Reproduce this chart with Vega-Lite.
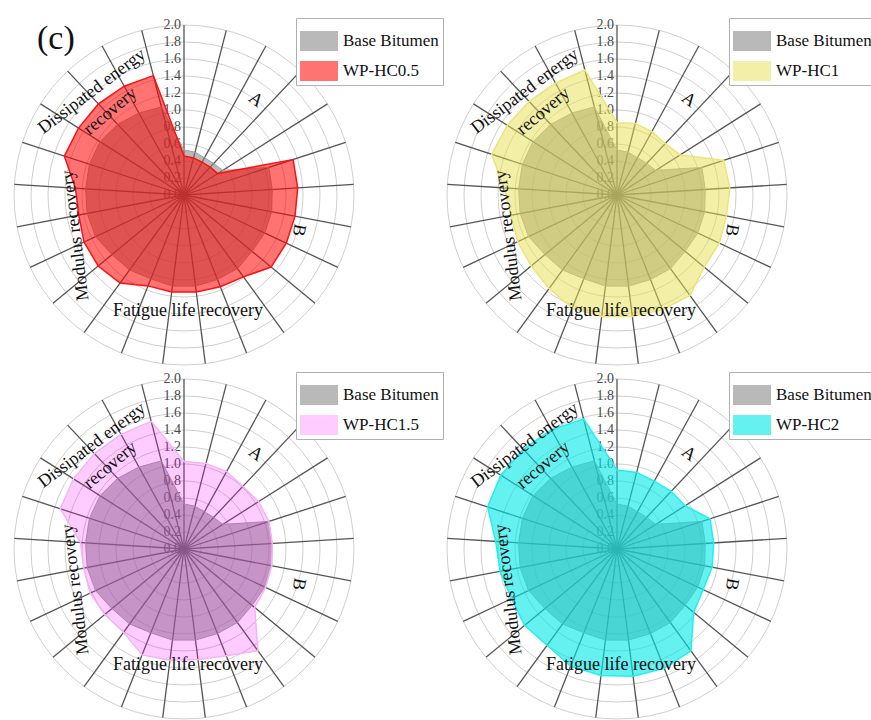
{
"$schema": "https://vega.github.io/schema/vega-lite/v6.json",
"padding": {"left": 0, "top": 17, "right": 0, "bottom": 0},
"bounds": "flush",
"columns": 2,
"spacing": {"row": 0, "column": 65},
"background": "white",
"config": {
  "view": {"stroke": null},
  "font": "Liberation Serif",
  "legend": {"orient": "none", "legendX": 296, "legendY": 0, "padding": 4, "strokeColor": "#b0b0b0", "fillColor": "white", "labelFont": "Liberation Serif", "labelFontSize": 17, "labelColor": "#111111", "labelOffset": 5, "symbolType": "M-1,-0.52H1V0.52H-1Z", "symbolSize": 1444, "symbolStrokeWidth": 0, "rowPadding": 1, "labelLimit": 300}
},
"resolve": {"scale": {"fill": "independent"}, "legend": {"fill": "independent"}},
"datasets": {
  "ticks": [{"r": 0}, {"r": 0.2}, {"r": 0.4}, {"r": 0.6}, {"r": 0.8}, {"r": 1.0}, {"r": 1.2}, {"r": 1.4}, {"r": 1.6}, {"r": 1.8}, {"r": 2.0}],
  "spokes": [{"k": 0}, {"k": 1}, {"k": 2}, {"k": 3}, {"k": 4}, {"k": 5}, {"k": 6}, {"k": 7}, {"k": 8}, {"k": 9}, {"k": 10}, {"k": 11}, {"k": 12}, {"k": 13}, {"k": 14}, {"k": 15}, {"k": 16}, {"k": 17}, {"k": 18}, {"k": 19}, {"k": 20}, {"k": 21}, {"k": 22}, {"k": 23}, {"k": 24}],
  "labels": [
    {"label": "Dissipated energy", "theta": 318.4, "r": 1.63},
    {"label": "recovery", "theta": 318.7, "r": 1.31},
    {"label": "A", "theta": 37, "r": 1.40},
    {"label": "B", "theta": 107, "r": 1.41},
    {"label": "Fatigue life recovery", "theta": 178, "r": 1.36},
    {"label": "Modulus recovery", "theta": 249.6, "r": 1.36}
  ],
  "panelmark": [{"tag": "(c)", "theta": 320.6, "r": 2.374}],
  "base": [
    {"series": "Base Bitumen", "k": 0, "v": 0.53}, {"series": "Base Bitumen", "k": 1, "v": 0.52}, {"series": "Base Bitumen", "k": 2, "v": 0.50}, {"series": "Base Bitumen", "k": 3, "v": 0.51}, {"series": "Base Bitumen", "k": 4, "v": 0.54},
    {"series": "Base Bitumen", "k": 5, "v": 1.05}, {"series": "Base Bitumen", "k": 6, "v": 1.04}, {"series": "Base Bitumen", "k": 7, "v": 1.05}, {"series": "Base Bitumen", "k": 8, "v": 1.05}, {"series": "Base Bitumen", "k": 9, "v": 1.04},
    {"series": "Base Bitumen", "k": 10, "v": 1.07}, {"series": "Base Bitumen", "k": 11, "v": 1.07}, {"series": "Base Bitumen", "k": 12, "v": 1.08}, {"series": "Base Bitumen", "k": 13, "v": 1.08}, {"series": "Base Bitumen", "k": 14, "v": 1.06},
    {"series": "Base Bitumen", "k": 15, "v": 1.09}, {"series": "Base Bitumen", "k": 16, "v": 1.10}, {"series": "Base Bitumen", "k": 17, "v": 1.15}, {"series": "Base Bitumen", "k": 18, "v": 1.16}, {"series": "Base Bitumen", "k": 19, "v": 1.16},
    {"series": "Base Bitumen", "k": 20, "v": 1.17}, {"series": "Base Bitumen", "k": 21, "v": 1.17}, {"series": "Base Bitumen", "k": 22, "v": 1.14}, {"series": "Base Bitumen", "k": 23, "v": 1.10}, {"series": "Base Bitumen", "k": 24, "v": 1.07}
  ],
  "hc05": [
    {"series": "WP-HC0.5", "k": 0, "v": 0.46}, {"series": "WP-HC0.5", "k": 1, "v": 0.45}, {"series": "WP-HC0.5", "k": 2, "v": 0.44}, {"series": "WP-HC0.5", "k": 3, "v": 0.45}, {"series": "WP-HC0.5", "k": 4, "v": 0.47},
    {"series": "WP-HC0.5", "k": 5, "v": 1.35}, {"series": "WP-HC0.5", "k": 6, "v": 1.34}, {"series": "WP-HC0.5", "k": 7, "v": 1.33}, {"series": "WP-HC0.5", "k": 8, "v": 1.33}, {"series": "WP-HC0.5", "k": 9, "v": 1.33},
    {"series": "WP-HC0.5", "k": 10, "v": 1.19}, {"series": "WP-HC0.5", "k": 11, "v": 1.16}, {"series": "WP-HC0.5", "k": 12, "v": 1.15}, {"series": "WP-HC0.5", "k": 13, "v": 1.15}, {"series": "WP-HC0.5", "k": 14, "v": 1.15},
    {"series": "WP-HC0.5", "k": 15, "v": 1.28}, {"series": "WP-HC0.5", "k": 16, "v": 1.31}, {"series": "WP-HC0.5", "k": 17, "v": 1.30}, {"series": "WP-HC0.5", "k": 18, "v": 1.26}, {"series": "WP-HC0.5", "k": 19, "v": 1.28},
    {"series": "WP-HC0.5", "k": 20, "v": 1.48}, {"series": "WP-HC0.5", "k": 21, "v": 1.47}, {"series": "WP-HC0.5", "k": 22, "v": 1.47}, {"series": "WP-HC0.5", "k": 23, "v": 1.46}, {"series": "WP-HC0.5", "k": 24, "v": 1.45}
  ],
  "hc1": [
    {"series": "WP-HC1", "k": 0, "v": 0.85}, {"series": "WP-HC1", "k": 1, "v": 0.87}, {"series": "WP-HC1", "k": 2, "v": 0.85}, {"series": "WP-HC1", "k": 3, "v": 0.83}, {"series": "WP-HC1", "k": 4, "v": 0.88},
    {"series": "WP-HC1", "k": 5, "v": 1.32}, {"series": "WP-HC1", "k": 6, "v": 1.33}, {"series": "WP-HC1", "k": 7, "v": 1.31}, {"series": "WP-HC1", "k": 8, "v": 1.33}, {"series": "WP-HC1", "k": 9, "v": 1.33},
    {"series": "WP-HC1", "k": 10, "v": 1.46}, {"series": "WP-HC1", "k": 11, "v": 1.45}, {"series": "WP-HC1", "k": 12, "v": 1.44}, {"series": "WP-HC1", "k": 13, "v": 1.44}, {"series": "WP-HC1", "k": 14, "v": 1.43},
    {"series": "WP-HC1", "k": 15, "v": 1.36}, {"series": "WP-HC1", "k": 16, "v": 1.31}, {"series": "WP-HC1", "k": 17, "v": 1.29}, {"series": "WP-HC1", "k": 18, "v": 1.27}, {"series": "WP-HC1", "k": 19, "v": 1.33},
    {"series": "WP-HC1", "k": 20, "v": 1.55}, {"series": "WP-HC1", "k": 21, "v": 1.53}, {"series": "WP-HC1", "k": 22, "v": 1.51}, {"series": "WP-HC1", "k": 23, "v": 1.50}, {"series": "WP-HC1", "k": 24, "v": 1.52}
  ],
  "hc15": [
    {"series": "WP-HC1.5", "k": 0, "v": 1.03}, {"series": "WP-HC1.5", "k": 1, "v": 1.04}, {"series": "WP-HC1.5", "k": 2, "v": 1.04}, {"series": "WP-HC1.5", "k": 3, "v": 1.01}, {"series": "WP-HC1.5", "k": 4, "v": 1.04},
    {"series": "WP-HC1.5", "k": 5, "v": 1.05}, {"series": "WP-HC1.5", "k": 6, "v": 1.04}, {"series": "WP-HC1.5", "k": 7, "v": 1.05}, {"series": "WP-HC1.5", "k": 8, "v": 1.06}, {"series": "WP-HC1.5", "k": 9, "v": 1.08},
    {"series": "WP-HC1.5", "k": 10, "v": 1.48}, {"series": "WP-HC1.5", "k": 11, "v": 1.35}, {"series": "WP-HC1.5", "k": 12, "v": 1.31}, {"series": "WP-HC1.5", "k": 13, "v": 1.32}, {"series": "WP-HC1.5", "k": 14, "v": 1.34},
    {"series": "WP-HC1.5", "k": 15, "v": 1.21}, {"series": "WP-HC1.5", "k": 16, "v": 1.21}, {"series": "WP-HC1.5", "k": 17, "v": 1.22}, {"series": "WP-HC1.5", "k": 18, "v": 1.20}, {"series": "WP-HC1.5", "k": 19, "v": 1.22},
    {"series": "WP-HC1.5", "k": 20, "v": 1.53}, {"series": "WP-HC1.5", "k": 21, "v": 1.54}, {"series": "WP-HC1.5", "k": 22, "v": 1.54}, {"series": "WP-HC1.5", "k": 23, "v": 1.54}, {"series": "WP-HC1.5", "k": 24, "v": 1.55}
  ],
  "hc2": [
    {"series": "WP-HC2", "k": 0, "v": 0.93}, {"series": "WP-HC2", "k": 1, "v": 0.93}, {"series": "WP-HC2", "k": 2, "v": 0.91}, {"series": "WP-HC2", "k": 3, "v": 0.93}, {"series": "WP-HC2", "k": 4, "v": 0.95},
    {"series": "WP-HC2", "k": 5, "v": 1.15}, {"series": "WP-HC2", "k": 6, "v": 1.14}, {"series": "WP-HC2", "k": 7, "v": 1.14}, {"series": "WP-HC2", "k": 8, "v": 1.12}, {"series": "WP-HC2", "k": 9, "v": 1.17},
    {"series": "WP-HC2", "k": 10, "v": 1.48}, {"series": "WP-HC2", "k": 11, "v": 1.51}, {"series": "WP-HC2", "k": 12, "v": 1.51}, {"series": "WP-HC2", "k": 13, "v": 1.50}, {"series": "WP-HC2", "k": 14, "v": 1.48},
    {"series": "WP-HC2", "k": 15, "v": 1.40}, {"series": "WP-HC2", "k": 16, "v": 1.41}, {"series": "WP-HC2", "k": 17, "v": 1.37}, {"series": "WP-HC2", "k": 18, "v": 1.40}, {"series": "WP-HC2", "k": 19, "v": 1.43},
    {"series": "WP-HC2", "k": 20, "v": 1.60}, {"series": "WP-HC2", "k": 21, "v": 1.62}, {"series": "WP-HC2", "k": 22, "v": 1.61}, {"series": "WP-HC2", "k": 23, "v": 1.60}, {"series": "WP-HC2", "k": 24, "v": 1.58}
  ]
},
"concat": [
{
 "width": 368, "height": 354,
 "layer": [
  {"data": {"name": "ticks"}, "transform": [{"filter": "datum.r > 0"}], "mark": {"type": "arc", "filled": false, "stroke": "#cfcfcf", "strokeWidth": 1}, "encoding": {"radius": {"field": "r", "type": "quantitative", "stack": null, "scale": {"type": "linear", "domain": [0, 2], "range": [0, 170], "zero": true}}}},
  {"data": {"name": "spokes"}, "transform": [{"calculate": "0", "as": "o"}, {"calculate": "2*sin(datum.k*2*PI/25)", "as": "sx"}, {"calculate": "2*cos(datum.k*2*PI/25)", "as": "sy"}], "mark": {"type": "rule", "stroke": "#555555", "strokeWidth": 1.3}, "encoding": {"x": {"field": "o", "type": "quantitative", "scale": {"type": "linear", "domain": [-2.1647, 2.1647], "nice": false, "zero": false}, "axis": null}, "y": {"field": "o", "type": "quantitative", "scale": {"type": "linear", "domain": [-2.0824, 2.0824], "nice": false, "zero": false}, "axis": null}, "x2": {"field": "sx"}, "y2": {"field": "sy"}}},
  {"data": {"name": "ticks"}, "transform": [{"calculate": "0", "as": "o"}], "mark": {"type": "text", "align": "right", "baseline": "middle", "dx": -3, "font": "Liberation Serif", "fontSize": 14, "fill": "#4a4a4a"}, "encoding": {"x": {"field": "o", "type": "quantitative", "scale": {"type": "linear", "domain": [-2.1647, 2.1647], "nice": false, "zero": false}, "axis": null}, "y": {"field": "r", "type": "quantitative", "scale": {"type": "linear", "domain": [-2.0824, 2.0824], "nice": false, "zero": false}, "axis": null}, "text": {"field": "r", "type": "quantitative", "format": ".1f"}}},
  {"data": {"name": "base"}, "transform": [{"calculate": "datum.v*sin(datum.k*2*PI/25)", "as": "px"}, {"calculate": "datum.v*cos(datum.k*2*PI/25)", "as": "py"}], "mark": {"type": "line", "interpolate": "linear-closed", "stroke": "#a0a0a0", "strokeWidth": 1}, "encoding": {"x": {"field": "px", "type": "quantitative", "scale": {"type": "linear", "domain": [-2.1647, 2.1647], "nice": false, "zero": false}, "axis": null}, "y": {"field": "py", "type": "quantitative", "scale": {"type": "linear", "domain": [-2.0824, 2.0824], "nice": false, "zero": false}, "axis": null}, "order": {"field": "k", "type": "quantitative"}, "fill": {"field": "series", "type": "nominal", "scale": {"domain": ["Base Bitumen", "WP-HC0.5"], "range": ["rgba(128,128,128,0.55)", "rgba(255,0,0,0.55)"]}, "legend": {"title": null}}}},
  {"data": {"name": "hc05"}, "transform": [{"calculate": "datum.v*sin(datum.k*2*PI/25)", "as": "px"}, {"calculate": "datum.v*cos(datum.k*2*PI/25)", "as": "py"}], "mark": {"type": "line", "interpolate": "linear-closed", "stroke": "#ff1010", "strokeWidth": 1.5}, "encoding": {"x": {"field": "px", "type": "quantitative", "scale": {"type": "linear", "domain": [-2.1647, 2.1647], "nice": false, "zero": false}, "axis": null}, "y": {"field": "py", "type": "quantitative", "scale": {"type": "linear", "domain": [-2.0824, 2.0824], "nice": false, "zero": false}, "axis": null}, "order": {"field": "k", "type": "quantitative"}, "fill": {"field": "series", "type": "nominal", "scale": {"domain": ["Base Bitumen", "WP-HC0.5"], "range": ["rgba(128,128,128,0.55)", "rgba(255,0,0,0.55)"]}, "legend": {"title": null}}}},
  {"data": {"name": "labels"}, "transform": [{"filter": "datum.label === 'Dissipated energy'"}, {"calculate": "datum.r*sin(datum.theta*PI/180)", "as": "lx"}, {"calculate": "datum.r*cos(datum.theta*PI/180)", "as": "ly"}], "mark": {"type": "text", "angle": 323, "font": "Liberation Serif", "fontSize": 18, "fill": "#111111", "align": "center", "baseline": "middle"}, "encoding": {"x": {"field": "lx", "type": "quantitative", "scale": {"type": "linear", "domain": [-2.1647, 2.1647], "nice": false, "zero": false}, "axis": null}, "y": {"field": "ly", "type": "quantitative", "scale": {"type": "linear", "domain": [-2.0824, 2.0824], "nice": false, "zero": false}, "axis": null}, "text": {"field": "label", "type": "nominal"}}},
  {"data": {"name": "labels"}, "transform": [{"filter": "datum.label === 'recovery'"}, {"calculate": "datum.r*sin(datum.theta*PI/180)", "as": "lx"}, {"calculate": "datum.r*cos(datum.theta*PI/180)", "as": "ly"}], "mark": {"type": "text", "angle": 320, "font": "Liberation Serif", "fontSize": 18, "fill": "#111111", "align": "center", "baseline": "middle"}, "encoding": {"x": {"field": "lx", "type": "quantitative", "scale": {"type": "linear", "domain": [-2.1647, 2.1647], "nice": false, "zero": false}, "axis": null}, "y": {"field": "ly", "type": "quantitative", "scale": {"type": "linear", "domain": [-2.0824, 2.0824], "nice": false, "zero": false}, "axis": null}, "text": {"field": "label", "type": "nominal"}}},
  {"data": {"name": "labels"}, "transform": [{"filter": "datum.label === 'A'"}, {"calculate": "datum.r*sin(datum.theta*PI/180)", "as": "lx"}, {"calculate": "datum.r*cos(datum.theta*PI/180)", "as": "ly"}], "mark": {"type": "text", "angle": 37, "font": "Liberation Serif", "fontSize": 18, "fill": "#111111", "align": "center", "baseline": "middle"}, "encoding": {"x": {"field": "lx", "type": "quantitative", "scale": {"type": "linear", "domain": [-2.1647, 2.1647], "nice": false, "zero": false}, "axis": null}, "y": {"field": "ly", "type": "quantitative", "scale": {"type": "linear", "domain": [-2.0824, 2.0824], "nice": false, "zero": false}, "axis": null}, "text": {"field": "label", "type": "nominal"}}},
  {"data": {"name": "labels"}, "transform": [{"filter": "datum.label === 'B'"}, {"calculate": "datum.r*sin(datum.theta*PI/180)", "as": "lx"}, {"calculate": "datum.r*cos(datum.theta*PI/180)", "as": "ly"}], "mark": {"type": "text", "angle": 100, "font": "Liberation Serif", "fontSize": 18, "fill": "#111111", "align": "center", "baseline": "middle"}, "encoding": {"x": {"field": "lx", "type": "quantitative", "scale": {"type": "linear", "domain": [-2.1647, 2.1647], "nice": false, "zero": false}, "axis": null}, "y": {"field": "ly", "type": "quantitative", "scale": {"type": "linear", "domain": [-2.0824, 2.0824], "nice": false, "zero": false}, "axis": null}, "text": {"field": "label", "type": "nominal"}}},
  {"data": {"name": "labels"}, "transform": [{"filter": "datum.label === 'Fatigue life recovery'"}, {"calculate": "datum.r*sin(datum.theta*PI/180)", "as": "lx"}, {"calculate": "datum.r*cos(datum.theta*PI/180)", "as": "ly"}], "mark": {"type": "text", "angle": 0, "font": "Liberation Serif", "fontSize": 18, "fill": "#111111", "align": "center", "baseline": "middle"}, "encoding": {"x": {"field": "lx", "type": "quantitative", "scale": {"type": "linear", "domain": [-2.1647, 2.1647], "nice": false, "zero": false}, "axis": null}, "y": {"field": "ly", "type": "quantitative", "scale": {"type": "linear", "domain": [-2.0824, 2.0824], "nice": false, "zero": false}, "axis": null}, "text": {"field": "label", "type": "nominal"}}},
  {"data": {"name": "labels"}, "transform": [{"filter": "datum.label === 'Modulus recovery'"}, {"calculate": "datum.r*sin(datum.theta*PI/180)", "as": "lx"}, {"calculate": "datum.r*cos(datum.theta*PI/180)", "as": "ly"}], "mark": {"type": "text", "angle": 263, "font": "Liberation Serif", "fontSize": 18, "fill": "#111111", "align": "center", "baseline": "middle"}, "encoding": {"x": {"field": "lx", "type": "quantitative", "scale": {"type": "linear", "domain": [-2.1647, 2.1647], "nice": false, "zero": false}, "axis": null}, "y": {"field": "ly", "type": "quantitative", "scale": {"type": "linear", "domain": [-2.0824, 2.0824], "nice": false, "zero": false}, "axis": null}, "text": {"field": "label", "type": "nominal"}}},
  {"data": {"name": "panelmark"}, "transform": [{"calculate": "datum.r*sin(datum.theta*PI/180)", "as": "lx"}, {"calculate": "datum.r*cos(datum.theta*PI/180)", "as": "ly"}], "mark": {"type": "text", "font": "Liberation Serif", "fontSize": 34, "fill": "#111111", "align": "center", "baseline": "middle"}, "encoding": {"x": {"field": "lx", "type": "quantitative", "scale": {"type": "linear", "domain": [-2.1647, 2.1647], "nice": false, "zero": false}, "axis": null}, "y": {"field": "ly", "type": "quantitative", "scale": {"type": "linear", "domain": [-2.0824, 2.0824], "nice": false, "zero": false}, "axis": null}, "text": {"field": "tag", "type": "nominal"}}}
 ]
},
{
 "width": 368, "height": 354,
 "layer": [
  {"data": {"name": "ticks"}, "transform": [{"filter": "datum.r > 0"}], "mark": {"type": "arc", "filled": false, "stroke": "#cfcfcf", "strokeWidth": 1}, "encoding": {"radius": {"field": "r", "type": "quantitative", "stack": null, "scale": {"type": "linear", "domain": [0, 2], "range": [0, 170], "zero": true}}}},
  {"data": {"name": "spokes"}, "transform": [{"calculate": "0", "as": "o"}, {"calculate": "2*sin(datum.k*2*PI/25)", "as": "sx"}, {"calculate": "2*cos(datum.k*2*PI/25)", "as": "sy"}], "mark": {"type": "rule", "stroke": "#555555", "strokeWidth": 1.3}, "encoding": {"x": {"field": "o", "type": "quantitative", "scale": {"type": "linear", "domain": [-2.1647, 2.1647], "nice": false, "zero": false}, "axis": null}, "y": {"field": "o", "type": "quantitative", "scale": {"type": "linear", "domain": [-2.0824, 2.0824], "nice": false, "zero": false}, "axis": null}, "x2": {"field": "sx"}, "y2": {"field": "sy"}}},
  {"data": {"name": "ticks"}, "transform": [{"calculate": "0", "as": "o"}], "mark": {"type": "text", "align": "right", "baseline": "middle", "dx": -3, "font": "Liberation Serif", "fontSize": 14, "fill": "#4a4a4a"}, "encoding": {"x": {"field": "o", "type": "quantitative", "scale": {"type": "linear", "domain": [-2.1647, 2.1647], "nice": false, "zero": false}, "axis": null}, "y": {"field": "r", "type": "quantitative", "scale": {"type": "linear", "domain": [-2.0824, 2.0824], "nice": false, "zero": false}, "axis": null}, "text": {"field": "r", "type": "quantitative", "format": ".1f"}}},
  {"data": {"name": "base"}, "transform": [{"calculate": "datum.v*sin(datum.k*2*PI/25)", "as": "px"}, {"calculate": "datum.v*cos(datum.k*2*PI/25)", "as": "py"}], "mark": {"type": "line", "interpolate": "linear-closed", "stroke": "#a0a0a0", "strokeWidth": 1}, "encoding": {"x": {"field": "px", "type": "quantitative", "scale": {"type": "linear", "domain": [-2.1647, 2.1647], "nice": false, "zero": false}, "axis": null}, "y": {"field": "py", "type": "quantitative", "scale": {"type": "linear", "domain": [-2.0824, 2.0824], "nice": false, "zero": false}, "axis": null}, "order": {"field": "k", "type": "quantitative"}, "fill": {"field": "series", "type": "nominal", "scale": {"domain": ["Base Bitumen", "WP-HC1"], "range": ["rgba(128,128,128,0.55)", "rgba(232,224,80,0.5)"]}, "legend": {"title": null}}}},
  {"data": {"name": "hc1"}, "transform": [{"calculate": "datum.v*sin(datum.k*2*PI/25)", "as": "px"}, {"calculate": "datum.v*cos(datum.k*2*PI/25)", "as": "py"}], "mark": {"type": "line", "interpolate": "linear-closed", "stroke": "#ece47a", "strokeWidth": 1.5}, "encoding": {"x": {"field": "px", "type": "quantitative", "scale": {"type": "linear", "domain": [-2.1647, 2.1647], "nice": false, "zero": false}, "axis": null}, "y": {"field": "py", "type": "quantitative", "scale": {"type": "linear", "domain": [-2.0824, 2.0824], "nice": false, "zero": false}, "axis": null}, "order": {"field": "k", "type": "quantitative"}, "fill": {"field": "series", "type": "nominal", "scale": {"domain": ["Base Bitumen", "WP-HC1"], "range": ["rgba(128,128,128,0.55)", "rgba(232,224,80,0.5)"]}, "legend": {"title": null}}}},
  {"data": {"name": "labels"}, "transform": [{"filter": "datum.label === 'Dissipated energy'"}, {"calculate": "datum.r*sin(datum.theta*PI/180)", "as": "lx"}, {"calculate": "datum.r*cos(datum.theta*PI/180)", "as": "ly"}], "mark": {"type": "text", "angle": 323, "font": "Liberation Serif", "fontSize": 18, "fill": "#111111", "align": "center", "baseline": "middle"}, "encoding": {"x": {"field": "lx", "type": "quantitative", "scale": {"type": "linear", "domain": [-2.1647, 2.1647], "nice": false, "zero": false}, "axis": null}, "y": {"field": "ly", "type": "quantitative", "scale": {"type": "linear", "domain": [-2.0824, 2.0824], "nice": false, "zero": false}, "axis": null}, "text": {"field": "label", "type": "nominal"}}},
  {"data": {"name": "labels"}, "transform": [{"filter": "datum.label === 'recovery'"}, {"calculate": "datum.r*sin(datum.theta*PI/180)", "as": "lx"}, {"calculate": "datum.r*cos(datum.theta*PI/180)", "as": "ly"}], "mark": {"type": "text", "angle": 320, "font": "Liberation Serif", "fontSize": 18, "fill": "#111111", "align": "center", "baseline": "middle"}, "encoding": {"x": {"field": "lx", "type": "quantitative", "scale": {"type": "linear", "domain": [-2.1647, 2.1647], "nice": false, "zero": false}, "axis": null}, "y": {"field": "ly", "type": "quantitative", "scale": {"type": "linear", "domain": [-2.0824, 2.0824], "nice": false, "zero": false}, "axis": null}, "text": {"field": "label", "type": "nominal"}}},
  {"data": {"name": "labels"}, "transform": [{"filter": "datum.label === 'A'"}, {"calculate": "datum.r*sin(datum.theta*PI/180)", "as": "lx"}, {"calculate": "datum.r*cos(datum.theta*PI/180)", "as": "ly"}], "mark": {"type": "text", "angle": 37, "font": "Liberation Serif", "fontSize": 18, "fill": "#111111", "align": "center", "baseline": "middle"}, "encoding": {"x": {"field": "lx", "type": "quantitative", "scale": {"type": "linear", "domain": [-2.1647, 2.1647], "nice": false, "zero": false}, "axis": null}, "y": {"field": "ly", "type": "quantitative", "scale": {"type": "linear", "domain": [-2.0824, 2.0824], "nice": false, "zero": false}, "axis": null}, "text": {"field": "label", "type": "nominal"}}},
  {"data": {"name": "labels"}, "transform": [{"filter": "datum.label === 'B'"}, {"calculate": "datum.r*sin(datum.theta*PI/180)", "as": "lx"}, {"calculate": "datum.r*cos(datum.theta*PI/180)", "as": "ly"}], "mark": {"type": "text", "angle": 100, "font": "Liberation Serif", "fontSize": 18, "fill": "#111111", "align": "center", "baseline": "middle"}, "encoding": {"x": {"field": "lx", "type": "quantitative", "scale": {"type": "linear", "domain": [-2.1647, 2.1647], "nice": false, "zero": false}, "axis": null}, "y": {"field": "ly", "type": "quantitative", "scale": {"type": "linear", "domain": [-2.0824, 2.0824], "nice": false, "zero": false}, "axis": null}, "text": {"field": "label", "type": "nominal"}}},
  {"data": {"name": "labels"}, "transform": [{"filter": "datum.label === 'Fatigue life recovery'"}, {"calculate": "datum.r*sin(datum.theta*PI/180)", "as": "lx"}, {"calculate": "datum.r*cos(datum.theta*PI/180)", "as": "ly"}], "mark": {"type": "text", "angle": 0, "font": "Liberation Serif", "fontSize": 18, "fill": "#111111", "align": "center", "baseline": "middle"}, "encoding": {"x": {"field": "lx", "type": "quantitative", "scale": {"type": "linear", "domain": [-2.1647, 2.1647], "nice": false, "zero": false}, "axis": null}, "y": {"field": "ly", "type": "quantitative", "scale": {"type": "linear", "domain": [-2.0824, 2.0824], "nice": false, "zero": false}, "axis": null}, "text": {"field": "label", "type": "nominal"}}},
  {"data": {"name": "labels"}, "transform": [{"filter": "datum.label === 'Modulus recovery'"}, {"calculate": "datum.r*sin(datum.theta*PI/180)", "as": "lx"}, {"calculate": "datum.r*cos(datum.theta*PI/180)", "as": "ly"}], "mark": {"type": "text", "angle": 263, "font": "Liberation Serif", "fontSize": 18, "fill": "#111111", "align": "center", "baseline": "middle"}, "encoding": {"x": {"field": "lx", "type": "quantitative", "scale": {"type": "linear", "domain": [-2.1647, 2.1647], "nice": false, "zero": false}, "axis": null}, "y": {"field": "ly", "type": "quantitative", "scale": {"type": "linear", "domain": [-2.0824, 2.0824], "nice": false, "zero": false}, "axis": null}, "text": {"field": "label", "type": "nominal"}}}
 ]
},
{
 "width": 368, "height": 354,
 "layer": [
  {"data": {"name": "ticks"}, "transform": [{"filter": "datum.r > 0"}], "mark": {"type": "arc", "filled": false, "stroke": "#cfcfcf", "strokeWidth": 1}, "encoding": {"radius": {"field": "r", "type": "quantitative", "stack": null, "scale": {"type": "linear", "domain": [0, 2], "range": [0, 170], "zero": true}}}},
  {"data": {"name": "spokes"}, "transform": [{"calculate": "0", "as": "o"}, {"calculate": "2*sin(datum.k*2*PI/25)", "as": "sx"}, {"calculate": "2*cos(datum.k*2*PI/25)", "as": "sy"}], "mark": {"type": "rule", "stroke": "#555555", "strokeWidth": 1.3}, "encoding": {"x": {"field": "o", "type": "quantitative", "scale": {"type": "linear", "domain": [-2.1647, 2.1647], "nice": false, "zero": false}, "axis": null}, "y": {"field": "o", "type": "quantitative", "scale": {"type": "linear", "domain": [-2.0824, 2.0824], "nice": false, "zero": false}, "axis": null}, "x2": {"field": "sx"}, "y2": {"field": "sy"}}},
  {"data": {"name": "ticks"}, "transform": [{"calculate": "0", "as": "o"}], "mark": {"type": "text", "align": "right", "baseline": "middle", "dx": -3, "font": "Liberation Serif", "fontSize": 14, "fill": "#4a4a4a"}, "encoding": {"x": {"field": "o", "type": "quantitative", "scale": {"type": "linear", "domain": [-2.1647, 2.1647], "nice": false, "zero": false}, "axis": null}, "y": {"field": "r", "type": "quantitative", "scale": {"type": "linear", "domain": [-2.0824, 2.0824], "nice": false, "zero": false}, "axis": null}, "text": {"field": "r", "type": "quantitative", "format": ".1f"}}},
  {"data": {"name": "base"}, "transform": [{"calculate": "datum.v*sin(datum.k*2*PI/25)", "as": "px"}, {"calculate": "datum.v*cos(datum.k*2*PI/25)", "as": "py"}], "mark": {"type": "line", "interpolate": "linear-closed", "stroke": "#a0a0a0", "strokeWidth": 1}, "encoding": {"x": {"field": "px", "type": "quantitative", "scale": {"type": "linear", "domain": [-2.1647, 2.1647], "nice": false, "zero": false}, "axis": null}, "y": {"field": "py", "type": "quantitative", "scale": {"type": "linear", "domain": [-2.0824, 2.0824], "nice": false, "zero": false}, "axis": null}, "order": {"field": "k", "type": "quantitative"}, "fill": {"field": "series", "type": "nominal", "scale": {"domain": ["Base Bitumen", "WP-HC1.5"], "range": ["rgba(128,128,128,0.55)", "rgba(255,0,255,0.2)"]}, "legend": {"title": null}}}},
  {"data": {"name": "hc15"}, "transform": [{"calculate": "datum.v*sin(datum.k*2*PI/25)", "as": "px"}, {"calculate": "datum.v*cos(datum.k*2*PI/25)", "as": "py"}], "mark": {"type": "line", "interpolate": "linear-closed", "stroke": "#f4b4f4", "strokeWidth": 1.5}, "encoding": {"x": {"field": "px", "type": "quantitative", "scale": {"type": "linear", "domain": [-2.1647, 2.1647], "nice": false, "zero": false}, "axis": null}, "y": {"field": "py", "type": "quantitative", "scale": {"type": "linear", "domain": [-2.0824, 2.0824], "nice": false, "zero": false}, "axis": null}, "order": {"field": "k", "type": "quantitative"}, "fill": {"field": "series", "type": "nominal", "scale": {"domain": ["Base Bitumen", "WP-HC1.5"], "range": ["rgba(128,128,128,0.55)", "rgba(255,0,255,0.2)"]}, "legend": {"title": null}}}},
  {"data": {"name": "labels"}, "transform": [{"filter": "datum.label === 'Dissipated energy'"}, {"calculate": "datum.r*sin(datum.theta*PI/180)", "as": "lx"}, {"calculate": "datum.r*cos(datum.theta*PI/180)", "as": "ly"}], "mark": {"type": "text", "angle": 323, "font": "Liberation Serif", "fontSize": 18, "fill": "#111111", "align": "center", "baseline": "middle"}, "encoding": {"x": {"field": "lx", "type": "quantitative", "scale": {"type": "linear", "domain": [-2.1647, 2.1647], "nice": false, "zero": false}, "axis": null}, "y": {"field": "ly", "type": "quantitative", "scale": {"type": "linear", "domain": [-2.0824, 2.0824], "nice": false, "zero": false}, "axis": null}, "text": {"field": "label", "type": "nominal"}}},
  {"data": {"name": "labels"}, "transform": [{"filter": "datum.label === 'recovery'"}, {"calculate": "datum.r*sin(datum.theta*PI/180)", "as": "lx"}, {"calculate": "datum.r*cos(datum.theta*PI/180)", "as": "ly"}], "mark": {"type": "text", "angle": 320, "font": "Liberation Serif", "fontSize": 18, "fill": "#111111", "align": "center", "baseline": "middle"}, "encoding": {"x": {"field": "lx", "type": "quantitative", "scale": {"type": "linear", "domain": [-2.1647, 2.1647], "nice": false, "zero": false}, "axis": null}, "y": {"field": "ly", "type": "quantitative", "scale": {"type": "linear", "domain": [-2.0824, 2.0824], "nice": false, "zero": false}, "axis": null}, "text": {"field": "label", "type": "nominal"}}},
  {"data": {"name": "labels"}, "transform": [{"filter": "datum.label === 'A'"}, {"calculate": "datum.r*sin(datum.theta*PI/180)", "as": "lx"}, {"calculate": "datum.r*cos(datum.theta*PI/180)", "as": "ly"}], "mark": {"type": "text", "angle": 37, "font": "Liberation Serif", "fontSize": 18, "fill": "#111111", "align": "center", "baseline": "middle"}, "encoding": {"x": {"field": "lx", "type": "quantitative", "scale": {"type": "linear", "domain": [-2.1647, 2.1647], "nice": false, "zero": false}, "axis": null}, "y": {"field": "ly", "type": "quantitative", "scale": {"type": "linear", "domain": [-2.0824, 2.0824], "nice": false, "zero": false}, "axis": null}, "text": {"field": "label", "type": "nominal"}}},
  {"data": {"name": "labels"}, "transform": [{"filter": "datum.label === 'B'"}, {"calculate": "datum.r*sin(datum.theta*PI/180)", "as": "lx"}, {"calculate": "datum.r*cos(datum.theta*PI/180)", "as": "ly"}], "mark": {"type": "text", "angle": 100, "font": "Liberation Serif", "fontSize": 18, "fill": "#111111", "align": "center", "baseline": "middle"}, "encoding": {"x": {"field": "lx", "type": "quantitative", "scale": {"type": "linear", "domain": [-2.1647, 2.1647], "nice": false, "zero": false}, "axis": null}, "y": {"field": "ly", "type": "quantitative", "scale": {"type": "linear", "domain": [-2.0824, 2.0824], "nice": false, "zero": false}, "axis": null}, "text": {"field": "label", "type": "nominal"}}},
  {"data": {"name": "labels"}, "transform": [{"filter": "datum.label === 'Fatigue life recovery'"}, {"calculate": "datum.r*sin(datum.theta*PI/180)", "as": "lx"}, {"calculate": "datum.r*cos(datum.theta*PI/180)", "as": "ly"}], "mark": {"type": "text", "angle": 0, "font": "Liberation Serif", "fontSize": 18, "fill": "#111111", "align": "center", "baseline": "middle"}, "encoding": {"x": {"field": "lx", "type": "quantitative", "scale": {"type": "linear", "domain": [-2.1647, 2.1647], "nice": false, "zero": false}, "axis": null}, "y": {"field": "ly", "type": "quantitative", "scale": {"type": "linear", "domain": [-2.0824, 2.0824], "nice": false, "zero": false}, "axis": null}, "text": {"field": "label", "type": "nominal"}}},
  {"data": {"name": "labels"}, "transform": [{"filter": "datum.label === 'Modulus recovery'"}, {"calculate": "datum.r*sin(datum.theta*PI/180)", "as": "lx"}, {"calculate": "datum.r*cos(datum.theta*PI/180)", "as": "ly"}], "mark": {"type": "text", "angle": 263, "font": "Liberation Serif", "fontSize": 18, "fill": "#111111", "align": "center", "baseline": "middle"}, "encoding": {"x": {"field": "lx", "type": "quantitative", "scale": {"type": "linear", "domain": [-2.1647, 2.1647], "nice": false, "zero": false}, "axis": null}, "y": {"field": "ly", "type": "quantitative", "scale": {"type": "linear", "domain": [-2.0824, 2.0824], "nice": false, "zero": false}, "axis": null}, "text": {"field": "label", "type": "nominal"}}}
 ]
},
{
 "width": 368, "height": 354,
 "layer": [
  {"data": {"name": "ticks"}, "transform": [{"filter": "datum.r > 0"}], "mark": {"type": "arc", "filled": false, "stroke": "#cfcfcf", "strokeWidth": 1}, "encoding": {"radius": {"field": "r", "type": "quantitative", "stack": null, "scale": {"type": "linear", "domain": [0, 2], "range": [0, 170], "zero": true}}}},
  {"data": {"name": "spokes"}, "transform": [{"calculate": "0", "as": "o"}, {"calculate": "2*sin(datum.k*2*PI/25)", "as": "sx"}, {"calculate": "2*cos(datum.k*2*PI/25)", "as": "sy"}], "mark": {"type": "rule", "stroke": "#555555", "strokeWidth": 1.3}, "encoding": {"x": {"field": "o", "type": "quantitative", "scale": {"type": "linear", "domain": [-2.1647, 2.1647], "nice": false, "zero": false}, "axis": null}, "y": {"field": "o", "type": "quantitative", "scale": {"type": "linear", "domain": [-2.0824, 2.0824], "nice": false, "zero": false}, "axis": null}, "x2": {"field": "sx"}, "y2": {"field": "sy"}}},
  {"data": {"name": "ticks"}, "transform": [{"calculate": "0", "as": "o"}], "mark": {"type": "text", "align": "right", "baseline": "middle", "dx": -3, "font": "Liberation Serif", "fontSize": 14, "fill": "#4a4a4a"}, "encoding": {"x": {"field": "o", "type": "quantitative", "scale": {"type": "linear", "domain": [-2.1647, 2.1647], "nice": false, "zero": false}, "axis": null}, "y": {"field": "r", "type": "quantitative", "scale": {"type": "linear", "domain": [-2.0824, 2.0824], "nice": false, "zero": false}, "axis": null}, "text": {"field": "r", "type": "quantitative", "format": ".1f"}}},
  {"data": {"name": "base"}, "transform": [{"calculate": "datum.v*sin(datum.k*2*PI/25)", "as": "px"}, {"calculate": "datum.v*cos(datum.k*2*PI/25)", "as": "py"}], "mark": {"type": "line", "interpolate": "linear-closed", "stroke": "#a0a0a0", "strokeWidth": 1}, "encoding": {"x": {"field": "px", "type": "quantitative", "scale": {"type": "linear", "domain": [-2.1647, 2.1647], "nice": false, "zero": false}, "axis": null}, "y": {"field": "py", "type": "quantitative", "scale": {"type": "linear", "domain": [-2.0824, 2.0824], "nice": false, "zero": false}, "axis": null}, "order": {"field": "k", "type": "quantitative"}, "fill": {"field": "series", "type": "nominal", "scale": {"domain": ["Base Bitumen", "WP-HC2"], "range": ["rgba(128,128,128,0.55)", "rgba(0,232,232,0.6)"]}, "legend": {"title": null}}}},
  {"data": {"name": "hc2"}, "transform": [{"calculate": "datum.v*sin(datum.k*2*PI/25)", "as": "px"}, {"calculate": "datum.v*cos(datum.k*2*PI/25)", "as": "py"}], "mark": {"type": "line", "interpolate": "linear-closed", "stroke": "#20f0f0", "strokeWidth": 1.5}, "encoding": {"x": {"field": "px", "type": "quantitative", "scale": {"type": "linear", "domain": [-2.1647, 2.1647], "nice": false, "zero": false}, "axis": null}, "y": {"field": "py", "type": "quantitative", "scale": {"type": "linear", "domain": [-2.0824, 2.0824], "nice": false, "zero": false}, "axis": null}, "order": {"field": "k", "type": "quantitative"}, "fill": {"field": "series", "type": "nominal", "scale": {"domain": ["Base Bitumen", "WP-HC2"], "range": ["rgba(128,128,128,0.55)", "rgba(0,232,232,0.6)"]}, "legend": {"title": null}}}},
  {"data": {"name": "labels"}, "transform": [{"filter": "datum.label === 'Dissipated energy'"}, {"calculate": "datum.r*sin(datum.theta*PI/180)", "as": "lx"}, {"calculate": "datum.r*cos(datum.theta*PI/180)", "as": "ly"}], "mark": {"type": "text", "angle": 323, "font": "Liberation Serif", "fontSize": 18, "fill": "#111111", "align": "center", "baseline": "middle"}, "encoding": {"x": {"field": "lx", "type": "quantitative", "scale": {"type": "linear", "domain": [-2.1647, 2.1647], "nice": false, "zero": false}, "axis": null}, "y": {"field": "ly", "type": "quantitative", "scale": {"type": "linear", "domain": [-2.0824, 2.0824], "nice": false, "zero": false}, "axis": null}, "text": {"field": "label", "type": "nominal"}}},
  {"data": {"name": "labels"}, "transform": [{"filter": "datum.label === 'recovery'"}, {"calculate": "datum.r*sin(datum.theta*PI/180)", "as": "lx"}, {"calculate": "datum.r*cos(datum.theta*PI/180)", "as": "ly"}], "mark": {"type": "text", "angle": 320, "font": "Liberation Serif", "fontSize": 18, "fill": "#111111", "align": "center", "baseline": "middle"}, "encoding": {"x": {"field": "lx", "type": "quantitative", "scale": {"type": "linear", "domain": [-2.1647, 2.1647], "nice": false, "zero": false}, "axis": null}, "y": {"field": "ly", "type": "quantitative", "scale": {"type": "linear", "domain": [-2.0824, 2.0824], "nice": false, "zero": false}, "axis": null}, "text": {"field": "label", "type": "nominal"}}},
  {"data": {"name": "labels"}, "transform": [{"filter": "datum.label === 'A'"}, {"calculate": "datum.r*sin(datum.theta*PI/180)", "as": "lx"}, {"calculate": "datum.r*cos(datum.theta*PI/180)", "as": "ly"}], "mark": {"type": "text", "angle": 37, "font": "Liberation Serif", "fontSize": 18, "fill": "#111111", "align": "center", "baseline": "middle"}, "encoding": {"x": {"field": "lx", "type": "quantitative", "scale": {"type": "linear", "domain": [-2.1647, 2.1647], "nice": false, "zero": false}, "axis": null}, "y": {"field": "ly", "type": "quantitative", "scale": {"type": "linear", "domain": [-2.0824, 2.0824], "nice": false, "zero": false}, "axis": null}, "text": {"field": "label", "type": "nominal"}}},
  {"data": {"name": "labels"}, "transform": [{"filter": "datum.label === 'B'"}, {"calculate": "datum.r*sin(datum.theta*PI/180)", "as": "lx"}, {"calculate": "datum.r*cos(datum.theta*PI/180)", "as": "ly"}], "mark": {"type": "text", "angle": 100, "font": "Liberation Serif", "fontSize": 18, "fill": "#111111", "align": "center", "baseline": "middle"}, "encoding": {"x": {"field": "lx", "type": "quantitative", "scale": {"type": "linear", "domain": [-2.1647, 2.1647], "nice": false, "zero": false}, "axis": null}, "y": {"field": "ly", "type": "quantitative", "scale": {"type": "linear", "domain": [-2.0824, 2.0824], "nice": false, "zero": false}, "axis": null}, "text": {"field": "label", "type": "nominal"}}},
  {"data": {"name": "labels"}, "transform": [{"filter": "datum.label === 'Fatigue life recovery'"}, {"calculate": "datum.r*sin(datum.theta*PI/180)", "as": "lx"}, {"calculate": "datum.r*cos(datum.theta*PI/180)", "as": "ly"}], "mark": {"type": "text", "angle": 0, "font": "Liberation Serif", "fontSize": 18, "fill": "#111111", "align": "center", "baseline": "middle"}, "encoding": {"x": {"field": "lx", "type": "quantitative", "scale": {"type": "linear", "domain": [-2.1647, 2.1647], "nice": false, "zero": false}, "axis": null}, "y": {"field": "ly", "type": "quantitative", "scale": {"type": "linear", "domain": [-2.0824, 2.0824], "nice": false, "zero": false}, "axis": null}, "text": {"field": "label", "type": "nominal"}}},
  {"data": {"name": "labels"}, "transform": [{"filter": "datum.label === 'Modulus recovery'"}, {"calculate": "datum.r*sin(datum.theta*PI/180)", "as": "lx"}, {"calculate": "datum.r*cos(datum.theta*PI/180)", "as": "ly"}], "mark": {"type": "text", "angle": 263, "font": "Liberation Serif", "fontSize": 18, "fill": "#111111", "align": "center", "baseline": "middle"}, "encoding": {"x": {"field": "lx", "type": "quantitative", "scale": {"type": "linear", "domain": [-2.1647, 2.1647], "nice": false, "zero": false}, "axis": null}, "y": {"field": "ly", "type": "quantitative", "scale": {"type": "linear", "domain": [-2.0824, 2.0824], "nice": false, "zero": false}, "axis": null}, "text": {"field": "label", "type": "nominal"}}}
 ]
}
]
}
